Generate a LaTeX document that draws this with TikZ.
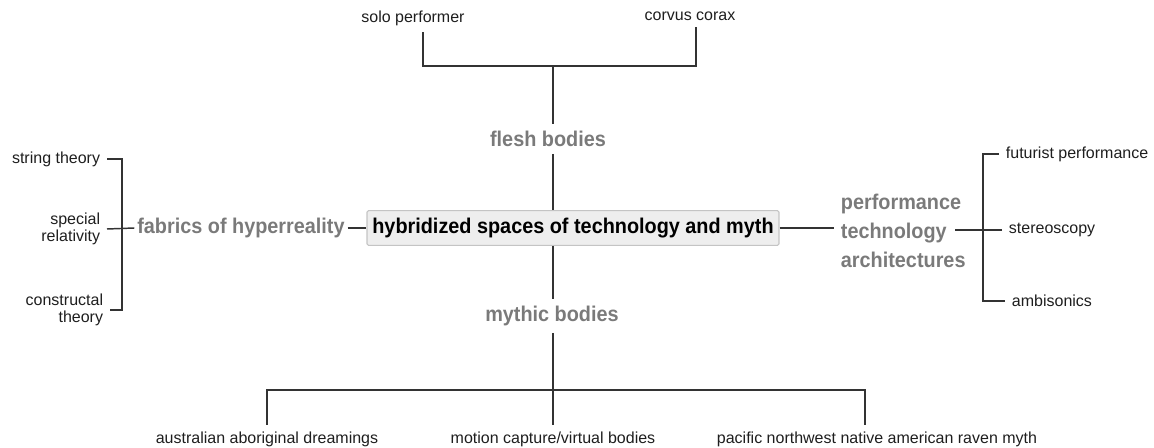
\documentclass[tikz,border=0pt]{standalone}
\usepackage{fontspec}
\setmainfont{Liberation Sans}
\newfontfamily\headfont[FakeStretch=0.93]{Liberation Sans}
\usetikzlibrary{positioning}
\definecolor{headgray}{HTML}{7A7A7A}
\definecolor{leafink}{HTML}{1E1E1E}
\definecolor{linkgray}{HTML}{333333}
\definecolor{boxfill}{HTML}{EEEEEE}
\definecolor{boxline}{HTML}{C4C4C4}
\tikzset{
  head/.style={font=\headfont\bfseries\fontsize{16}{22}\selectfont, text=headgray, inner sep=5pt},
  leaf/.style={font=\fontsize{12}{13}\selectfont, text=leafink, inner sep=5pt},
  link/.style={draw=linkgray, line width=1.1pt},
}

\begin{document}
\begin{tikzpicture}[x=0.75pt,y=-0.75pt]
				\useasboundingbox (0,0) rectangle (1154,448);
				\coordinate (tj) at (553,66);
				\coordinate (bj) at (553,390);
				\coordinate (lbot) at (122,310);
				\coordinate (rbot) at (983,301);
				
				\node[fill=boxfill, draw=boxline, line width=0.8pt, rounded corners=1pt, minimum height=26pt, inner xsep=4pt,
				      font=\headfont\bfseries\fontsize{16}{20}\selectfont, text=black] (core) at (573,228) {hybridized spaces of technology and myth};
				\node[head] (flesh) at (548,139) {flesh bodies};
				\node[head] (mythic) at (552,316) {mythic bodies};
				\node[head, inner xsep=2pt] (fabrics) at (241,228) {fabrics of hyperreality};
				\node[head, anchor=west, align=left] (perf) at (834,231) {performance\\technology\\architectures};
				
				\node[leaf] (solo) at (413,18) {solo performer};
				\node[leaf] (corvus) at (690,16) {corvus corax};
				\node[leaf, anchor=east] (string) at (107,159) {string theory};
				\node[leaf, anchor=east, align=right] (special) at (107,229) {special\\relativity};
				\node[leaf, anchor=east, align=right] (constr) at (110,310) {constructal\\theory};
				\node[leaf, anchor=west] (futur) at (999,154) {futurist performance};
				\node[leaf, anchor=west] (stereo) at (1002,230) {stereoscopy};
				\node[leaf, anchor=west] (ambi) at (1005,301) {ambisonics};
				\node[leaf] (austral) at (267,439) {australian aboriginal dreamings};
				\node[leaf] (motion) at (553,439) {motion capture/virtual bodies};
				\node[leaf] (pacific) at (877,439) {pacific northwest native american raven myth};
				
				% trunk
				\draw[link] (tj) -- (tj |- flesh.north);
				\draw[link] (tj |- flesh.south) -- (tj |- core.north);
				\draw[link] (tj |- core.south) -- (tj |- mythic.north);
				\draw[link] (tj |- mythic.south) -- (bj);
				
				% top and bottom branches
				\draw[link] ([xshift=7.5pt]solo.south) |- (tj) -| ([xshift=4.5pt]corvus.south);
				\draw[link] (austral.north) |- (bj) -| ([xshift=-9pt]pacific.north);
				\draw[link] (motion.north) -- (bj);
				
				% side branches
				\draw[link] (fabrics.east) -- (core.west);
				\draw[link] (special.east) -- (fabrics.west);
				\draw[link] (string.east) -| (lbot) -- (constr.east);
				\draw[link] (core.east) -- (perf.west |- core.east);
				\draw[link] (stereo.west) -- ++(-47,0);
				\draw[link] (futur.west) -| (rbot) -- (ambi.west);
			\end{tikzpicture}
\end{document}
